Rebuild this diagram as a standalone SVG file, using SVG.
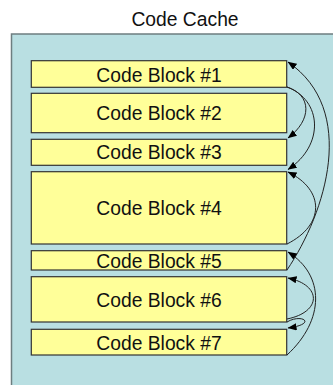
<svg xmlns="http://www.w3.org/2000/svg" width="333" height="385" viewBox="0 0 333 385">
<style>
.blk rect{fill:#ffff99;stroke:#333;stroke-width:1.2}
text{font-family:"Liberation Sans",Arial,sans-serif;font-size:19.3px;fill:#111;text-anchor:middle}
.conn path{fill:none;stroke:#222;stroke-width:1;marker-end:url(#ah)}
</style>
<defs>
<marker id="ah" viewBox="0 0 10 8" refX="9.5" refY="4" markerWidth="9" markerHeight="7.2" orient="auto" markerUnits="userSpaceOnUse">
<path d="M0,0 L10,4 L0,8 z" fill="#000"/>
</marker>
</defs>
<rect width="333" height="385" fill="#ffffff"/>
<text x="185" y="26">Code Cache</text>
<g id="cache">
<rect x="11.5" y="34" width="400" height="400" fill="#b9dfe2" stroke="#6e7e80" stroke-width="1.5"/>
</g>
<g id="block1" class="blk"><rect x="31.3" y="60.7" width="255.4" height="26.6"/><text x="159" y="81.5">Code Block #1</text></g>
<g id="block2" class="blk"><rect x="31.3" y="93.3" width="255.4" height="39.4"/><text x="159" y="120">Code Block #2</text></g>
<g id="block3" class="blk"><rect x="31.3" y="139.3" width="255.4" height="26"/><text x="159" y="159.3">Code Block #3</text></g>
<g id="block4" class="blk"><rect x="31.3" y="171.7" width="255.4" height="72.3"/><text x="159" y="215">Code Block #4</text></g>
<g id="block5" class="blk"><rect x="31.3" y="250.7" width="255.4" height="19.3"/><text x="159" y="268">Code Block #5</text></g>
<g id="block6" class="blk"><rect x="31.3" y="276.7" width="255.4" height="45.3"/><text x="159" y="307">Code Block #6</text></g>
<g id="block7" class="blk"><rect x="31.3" y="329.3" width="255.4" height="25.7"/><text x="159" y="349.7">Code Block #7</text></g>
<g id="connectors" class="conn">
<path d="M287,270 C326,212 358,110 288,62"/>
<path d="M287,87 C312,95 312,120 288,138"/>
<path d="M287,87 C322,100 325,145 288,169.5"/>
<path d="M287,244 C325,225 325,190 288,172"/>
<path d="M287,355 C325,320 325,275 288,252"/>
<path d="M287,319 C322,312 322,285 288,278"/>
<path d="M287,322 C302,313 318,324 288,328"/>
</g>
</svg>
